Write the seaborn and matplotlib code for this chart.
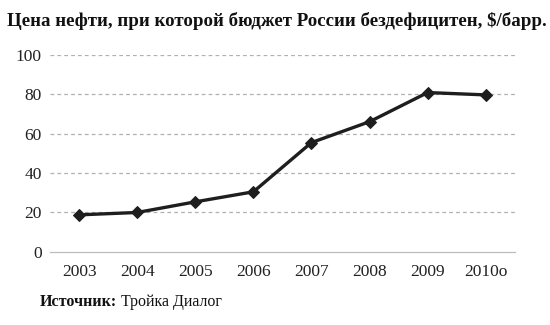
import matplotlib
matplotlib.use("Agg")
import matplotlib.pyplot as plt
import seaborn as sns
import pandas as pd
import numpy as np

years = ["2003", "2004", "2005", "2006", "2007", "2008", "2009", "2010о"]
breakeven_price = [18.8, 20.0, 25.4, 30.5, 55.5, 66.1, 80.9, 79.7]
y_ticks = [0, 20, 40, 60, 80, 100]

title = "Цена нефти, при которой бюджет России бездефицитен, $/барр."
source_label = "Источник:"
source_name = "Тройка Диалог"

sns.set_theme(style="white")
plt.rcParams["font.family"] = ["Liberation Serif", "DejaVu Serif"]

df = pd.DataFrame({"year": years, "price": breakeven_price})
df["pos"] = np.arange(len(years))

fig = plt.figure(figsize=(5.5, 3.25), dpi=100)
ax = fig.add_axes([0.091, 0.225, 0.845, 0.606])

sns.lineplot(data=df, x="pos", y="price", ax=ax, color="#1e1e1e",
             linewidth=2.4, marker="D", markersize=6.5,
             markeredgecolor="#1e1e1e", markerfacecolor="#1e1e1e")

ax.set_xlim(-0.5, len(years) - 0.5)
ax.set_ylim(0, 100)
ax.set_yticks(y_ticks)
ax.set_yticklabels([str(v) for v in y_ticks], fontsize=12.5, color="#222222")
ax.set_xticks(df["pos"])
ax.set_xticklabels(years, fontsize=12.5, color="#222222")
ax.set_xlabel("")
ax.set_ylabel("")

# dashed horizontal gridlines
for v in y_ticks[1:]:
    ax.axhline(v, color="#b0b0b0", linestyle=(0, (3, 2.5)), linewidth=0.9, zorder=0)

for side in ["top", "right", "left"]:
    ax.spines[side].set_visible(False)
ax.spines["bottom"].set_color("#bdbdbd")
ax.spines["bottom"].set_linewidth(0.9)

# boundary tick marks between categories
ax.set_xticks(np.arange(-0.5, len(years)), minor=True)
ax.tick_params(axis="x", which="minor", length=4, color="#bdbdbd", width=0.8, direction="out")
ax.tick_params(axis="x", which="major", length=0, pad=9)
ax.tick_params(axis="y", length=0, pad=6)

fig.text(0.013, 0.935, title, fontsize=13.6, fontweight="bold", color="#111111",
         ha="left", va="center")
t = fig.text(0.073, 0.07, source_label, fontsize=11.5, fontweight="bold",
             color="#111111", ha="left", va="center")
fig.canvas.draw()
bb = t.get_window_extent()
x2 = (bb.x1 + 4) / fig.bbox.width
fig.text(x2, 0.07, source_name, fontsize=11.5, color="#111111", ha="left", va="center")

fig.savefig("out.png", dpi=100)
